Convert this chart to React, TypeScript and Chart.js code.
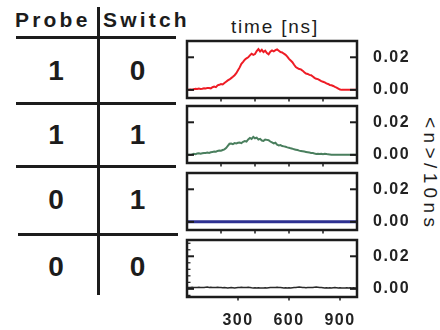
import React, { useEffect, useRef } from 'react';
import { Chart, registerables } from 'chart.js';

Chart.register(...registerables);

// ---------- data ----------
const timeNs = [
  0, 10, 20, 30, 40, 50, 60, 70, 80, 90,
  100, 110, 120, 130, 140, 150, 160, 170, 180, 190,
  200, 210, 220, 230, 240, 250, 260, 270, 280, 290,
  300, 310, 320, 330, 340, 350, 360, 370, 380, 390,
  400, 410, 420, 430, 440, 450, 460, 470, 480, 490,
  500, 510, 520, 530, 540, 550, 560, 570, 580, 590,
  600, 610, 620, 630, 640, 650, 660, 670, 680, 690,
  700, 710, 720, 730, 740, 750, 760, 770, 780, 790,
  800, 810, 820, 830, 840, 850, 860, 870, 880, 890,
  900, 910, 920, 930, 940, 950, 960, 970, 980, 990, 1000,
];

const redCounts = [
  0.0000, 0.0001, 0.0002, 0.0001, 0.0004, 0.0006, 0.0005, 0.0008, 0.0006, 0.0007,
  0.0010, 0.0008, 0.0012, 0.0011, 0.0009, 0.0016, 0.0020, 0.0017, 0.0028, 0.0031,
  0.0036, 0.0033, 0.0042, 0.0050, 0.0058, 0.0064, 0.0072, 0.0080, 0.0090, 0.0102,
  0.0120, 0.0138, 0.0160, 0.0172, 0.0185, 0.0194, 0.0200, 0.0212, 0.0222, 0.0215,
  0.0220, 0.0238, 0.0250, 0.0236, 0.0246, 0.0232, 0.0240, 0.0226, 0.0218, 0.0234,
  0.0242, 0.0236, 0.0244, 0.0248, 0.0240, 0.0232, 0.0230, 0.0222, 0.0215, 0.0204,
  0.0190, 0.0180, 0.0170, 0.0154, 0.0140, 0.0134, 0.0128, 0.0126, 0.0118, 0.0108,
  0.0100, 0.0098, 0.0092, 0.0090, 0.0082, 0.0074, 0.0068, 0.0066, 0.0060, 0.0054,
  0.0050, 0.0046, 0.0040, 0.0036, 0.0030, 0.0028, 0.0024, 0.0018, 0.0014, 0.0008,
  0.0002, 0, 0, 0, 0, 0, 0, 0, 0, 0, 0,
];

const greenCounts = [
  0.0000, 0.0001, 0.0000, 0.0003, 0.0006, 0.0004, 0.0008, 0.0010, 0.0007, 0.0010,
  0.0012, 0.0011, 0.0014, 0.0012, 0.0016, 0.0018, 0.0020, 0.0019, 0.0024, 0.0027,
  0.0026, 0.0030, 0.0034, 0.0042, 0.0055, 0.0068, 0.0070, 0.0066, 0.0072, 0.0070,
  0.0074, 0.0076, 0.0072, 0.0080, 0.0085, 0.0082, 0.0095, 0.0104, 0.0098, 0.0110,
  0.0102, 0.0106, 0.0094, 0.0098, 0.0088, 0.0086, 0.0094, 0.0092, 0.0090, 0.0082,
  0.0076, 0.0070, 0.0074, 0.0062, 0.0058, 0.0060, 0.0054, 0.0052, 0.0050, 0.0046,
  0.0044, 0.0040, 0.0038, 0.0034, 0.0032, 0.0030, 0.0026, 0.0024, 0.0022, 0.0020,
  0.0018, 0.0016, 0.0014, 0.0012, 0.0011, 0.0008, 0.0006, 0.0007, 0.0005, 0.0006,
  0.0004, 0.0006, 0.0005, 0.0003, 0.0002, 0.0001, 0, 0, 0, 0,
  0, 0, 0, 0, 0, 0, 0, 0, 0, 0, 0,
];

const blueCounts = [
  0, 0, 0, 0, 0, 0, 0, 0, 0, 0,
  0, 0, 0, 0, 0, 0, 0, 0, 0, 0,
  0, 0, 0, 0, 0, 0, 0, 0, 0, 0,
  0, 0, 0, 0, 0, 0, 0, 0, 0, 0,
  0, 0, 0, 0, 0, 0, 0, 0, 0, 0,
  0, 0, 0, 0, 0, 0, 0, 0, 0, 0,
  0, 0, 0, 0, 0, 0, 0, 0, 0, 0,
  0, 0, 0, 0, 0, 0, 0, 0, 0, 0,
  0, 0, 0, 0, 0, 0, 0, 0, 0, 0,
  0, 0, 0, 0, 0, 0, 0, 0, 0, 0, 0,
];

const blackCounts = [
  0.0008, 0.0009, 0.0008, 0.0010, 0.0009, 0.0008, 0.0009, 0.0010, 0.0009, 0.0008,
  0.0009, 0.0010, 0.0011, 0.0009, 0.0010, 0.0009, 0.0008, 0.0009, 0.0010, 0.0009,
  0.0008, 0.0007, 0.0008, 0.0007, 0.0006, 0.0007, 0.0008, 0.0007, 0.0006, 0.0007,
  0.0008, 0.0009, 0.0010, 0.0009, 0.0008, 0.0009, 0.0010, 0.0009, 0.0007, 0.0006,
  0.0007, 0.0006, 0.0007, 0.0006, 0.0005, 0.0006, 0.0007, 0.0006, 0.0007, 0.0008,
  0.0009, 0.0008, 0.0009, 0.0010, 0.0009, 0.0008, 0.0007, 0.0006, 0.0007, 0.0006,
  0.0007, 0.0006, 0.0007, 0.0008, 0.0009, 0.0010, 0.0011, 0.0010, 0.0009, 0.0008,
  0.0007, 0.0008, 0.0009, 0.0008, 0.0009, 0.0010, 0.0011, 0.0010, 0.0009, 0.0008,
  0.0007, 0.0006, 0.0007, 0.0006, 0.0007, 0.0006, 0.0007, 0.0008, 0.0007, 0.0006,
  0.0007, 0.0006, 0.0005, 0.0006, 0.0007, 0.0006, 0.0007, 0.0006, 0.0007, 0.0006, 0.0007,
];

const panelSeries = [redCounts, greenCounts, blueCounts, blackCounts];
const seriesColors = ['#ee1c25', '#4a7f5e', '#2e3192', '#2a2a2a'];
const seriesWidths = [2, 2, 3, 1.5];

const yTickValues = [0, 0.02];
const yMinorTickValues = [-0.004, 0.004, 0.008, 0.012, 0.016, 0.024, 0.028];
const xInnerTickValues = [200, 400, 600, 800];
const xLabelTickValues = [300, 600, 900];
const xMin = 0;
const xMax = 1000;
const yMin = -0.005;
const yMax = 0.03;

const headerLabels = ['Probe', 'Switch'];
const probeStates = ['1', '1', '0', '0'];
const switchStates = ['0', '1', '1', '0'];
const xAxisTitle = 'time [ns]';
const yAxisTitle = '<n>/10ns';

// ---------- layout ----------
const FONT = '"Liberation Sans", Arial, Helvetica, sans-serif';
const INK = '#1c1c1c';
const panelTops = [41, 106, 173, 240];
const panelHeight = 57;
const canvasLeft = 180;
const canvasWidth = 240;
const padLeft = 7;
const areaWidth = 170;
const padV = 12;
const lastAxisHeight = 33;
const rowCenters = [70.5, 135, 200, 266.5];
const colCenters = [56, 137.5];
const hLines = [
  { y: 37.5, x1: 16, x2: 176 },
  { y: 103.3, x1: 16, x2: 176 },
  { y: 166.8, x1: 16, x2: 176 },
  { y: 234.7, x1: 18, x2: 178 },
];

const framePlugin = {
  id: 'panelFrame',
  beforeDraw(chart: any) {
    (chart.ctx as any).letterSpacing = '1.5px';
  },
  afterDraw(chart: any, _args: any, opts: any) {
    const { ctx, chartArea: a, scales } = chart;
    ctx.save();
    (ctx as any).letterSpacing = '0px';
    ctx.strokeStyle = INK;
    ctx.lineCap = 'butt';
    const seg = (x1: number, y1: number, x2: number, y2: number) => {
      ctx.beginPath();
      ctx.moveTo(x1, y1);
      ctx.lineTo(x2, y2);
      ctx.stroke();
    };
    ctx.lineWidth = 2;
    for (const v of yTickValues) {
      const y = scales.y.getPixelForValue(v);
      seg(a.left, y, a.left + 7, y);
      seg(a.right - 7, y, a.right, y);
    }
    if (opts.minor) {
      ctx.lineWidth = 1.2;
      for (const v of yMinorTickValues) {
        const y = scales.y.getPixelForValue(v);
        seg(a.left, y, a.left + 3.5, y);
      }
    }
    ctx.lineWidth = 1.5;
    for (const v of opts.xTicks as number[]) {
      const x = scales.x.getPixelForValue(v);
      seg(x, a.bottom, x, a.bottom + 3.5);
    }
    ctx.lineWidth = 2.5;
    ctx.strokeRect(a.left, a.top, a.right - a.left, a.bottom - a.top);
    ctx.restore();
  },
};

function Panel({ index }: { index: number }) {
  const ref = useRef<HTMLCanvasElement | null>(null);
  const isLast = index === panelTops.length - 1;
  const height = isLast ? padV + panelHeight + lastAxisHeight : padV * 2 + panelHeight;
  const top = panelTops[index] - padV;

  useEffect(() => {
    if (!ref.current) return;
    const values = panelSeries[index];
    const chart = new Chart(ref.current, {
      type: 'line',
      data: {
        datasets: [
          {
            data: timeNs.map((t, i) => ({ x: t, y: values[i] })),
            borderColor: seriesColors[index],
            borderWidth: seriesWidths[index],
            pointRadius: 0,
            tension: 0,
            fill: false,
          },
        ],
      },
      options: {
        responsive: false,
        animation: false,
        events: [],
        layout: { padding: { left: padLeft, right: 0, top: padV, bottom: isLast ? 0 : padV } },
        plugins: {
          legend: { display: false },
          tooltip: { enabled: false },
          panelFrame: { xTicks: isLast ? xLabelTickValues : xInnerTickValues, minor: isLast },
        } as any,
        scales: {
          x: {
            type: 'linear',
            min: xMin,
            max: xMax,
            display: isLast,
            grid: { display: false, drawTicks: false },
            border: { display: false },
            ticks: {
              color: '#222',
              padding: 14,
              maxRotation: 0,
              font: { family: FONT, size: 16, weight: 'bold' },
            },
            afterBuildTicks: (s: any) => {
              s.ticks = xLabelTickValues.map((v) => ({ value: v }));
            },
            afterFit: (s: any) => {
              s.height = isLast ? lastAxisHeight : 0;
              s.paddingLeft = 0;
              s.paddingRight = 0;
              s.paddingTop = 0;
              s.paddingBottom = 0;
            },
          },
          y: {
            type: 'linear',
            position: 'right',
            min: yMin,
            max: yMax,
            grid: { display: false, drawTicks: false },
            border: { display: false },
            ticks: {
              color: '#222',
              padding: 16,
              font: { family: FONT, size: 16, weight: 'bold' },
              callback: (v: any) => Number(v).toFixed(2),
            },
            afterBuildTicks: (s: any) => {
              s.ticks = yTickValues.map((v) => ({ value: v }));
            },
            afterFit: (s: any) => {
              s.width = canvasWidth - padLeft - areaWidth;
              s.paddingLeft = 0;
              s.paddingRight = 0;
              s.paddingTop = 0;
              s.paddingBottom = 0;
            },
          },
        },
      } as any,
      plugins: [framePlugin],
    });
    return () => chart.destroy();
  }, [index]);

  return (
    <canvas
      ref={ref}
      width={canvasWidth}
      height={height}
      style={{ position: 'absolute', left: canvasLeft, top, width: canvasWidth, height }}
    />
  );
}

export default function App() {
  useEffect(() => {
    document.body.style.margin = '0';
  }, []);

  const digitStyle = (cx: number, cy: number): React.CSSProperties => ({
    position: 'absolute',
    left: cx - 20,
    width: 40,
    top: cy - 13.7,
    textAlign: 'center',
    font: `bold 28px ${FONT}`,
    lineHeight: '28px',
    color: INK,
  });

  const headerStyle = (left: number): React.CSSProperties => ({
    position: 'absolute',
    left,
    top: 9,
    font: `bold 21px ${FONT}`,
    lineHeight: '21px',
    letterSpacing: '3.2px',
    color: INK,
    whiteSpace: 'nowrap',
  });

  return (
    <div
      style={{
        position: 'fixed',
        left: 0,
        top: 0,
        width: 440,
        height: 330,
        background: '#fff',
        overflow: 'hidden',
      }}
    >
      {/* table header */}
      <div style={headerStyle(15)}>{headerLabels[0]}</div>
      <div style={headerStyle(103)}>{headerLabels[1]}</div>
      {/* table lines */}
      <div style={{ position: 'absolute', left: 96.5, top: 7, width: 3, height: 288, background: INK }} />
      {hLines.map((l, i) => (
        <div
          key={i}
          style={{ position: 'absolute', left: l.x1, top: l.y - 1.5, width: l.x2 - l.x1, height: 3, background: INK }}
        />
      ))}
      {probeStates.map((p, i) => (
        <div key={'p' + i} style={digitStyle(colCenters[0], rowCenters[i])}>{p}</div>
      ))}
      {switchStates.map((s, i) => (
        <div key={'s' + i} style={digitStyle(colCenters[1], rowCenters[i])}>{s}</div>
      ))}
      {/* axis titles */}
      <div
        style={{
          position: 'absolute', left: 231, top: 17, font: `19px ${FONT}`, lineHeight: '19px',
          letterSpacing: '1.8px', color: INK, whiteSpace: 'nowrap',
        }}
      >
        {xAxisTitle}
      </div>
      <div
        style={{
          position: 'absolute', left: 439.5, top: 117, font: `19px ${FONT}`, lineHeight: '19px',
          letterSpacing: '4.4px', color: INK, whiteSpace: 'nowrap',
          transform: 'rotate(90deg)', transformOrigin: 'left top',
        }}
      >
        {yAxisTitle}
      </div>
      {panelTops.map((_, i) => (
        <Panel key={i} index={i} />
      ))}
    </div>
  );
}
